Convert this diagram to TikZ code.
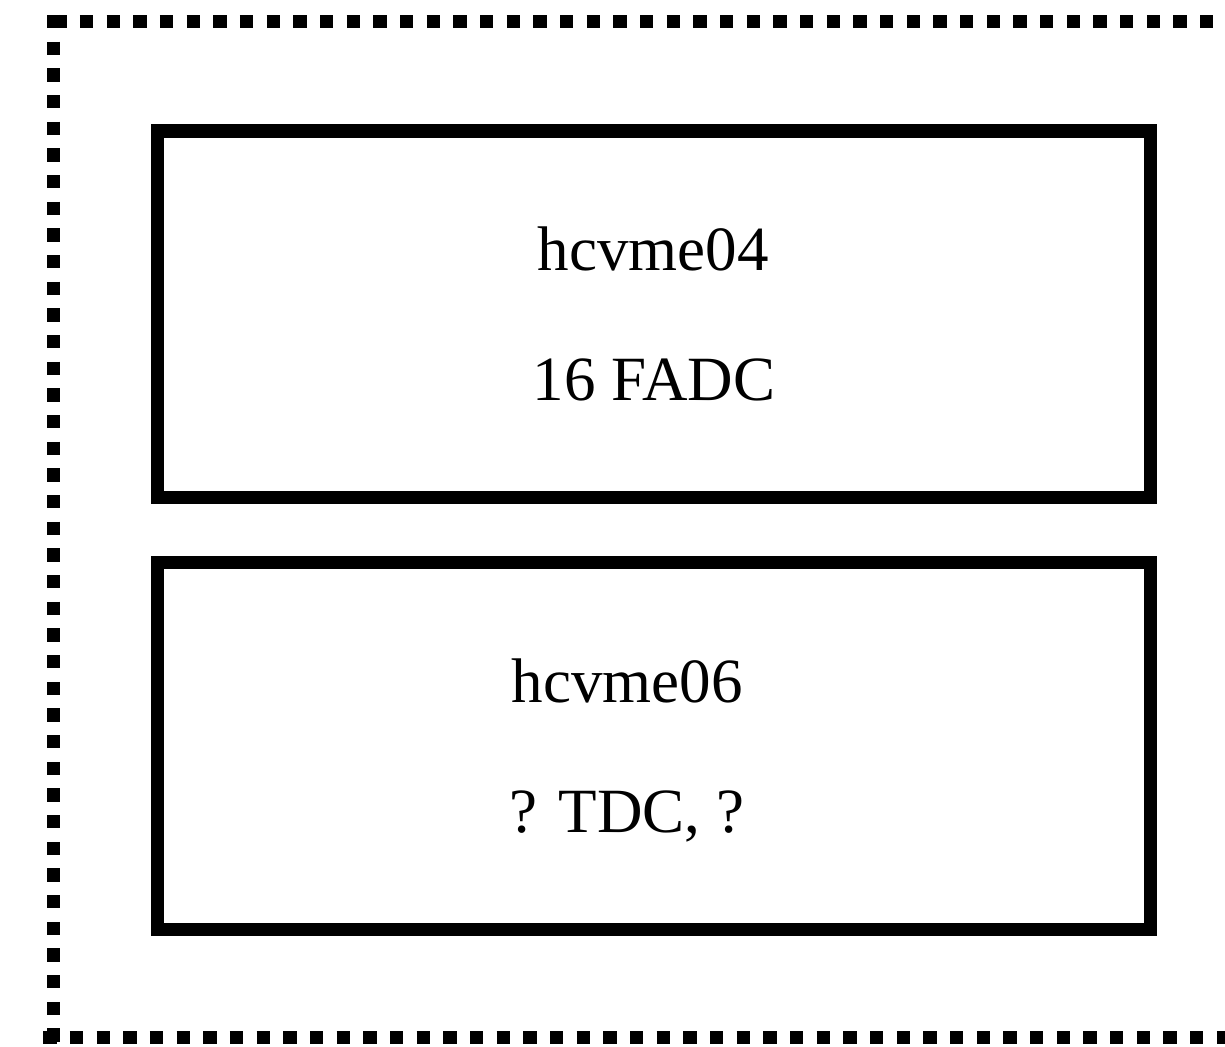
\documentclass[tikz,border=0pt]{standalone}
\usepackage{fontspec}
\setmainfont{Liberation Serif}
\begin{document}
\begin{tikzpicture}[x=1pt,y=-1pt,
  frameline/.style={line width=13.3pt,dash pattern=on 13.33pt off 13.34pt},
  hostbox/.style={draw,line width=13pt,minimum width=992.5pt,inner sep=0pt},
  lbl/.style={inner sep=0pt,anchor=base,font=\fontsize{63}{63}\selectfont}]
\useasboundingbox (0,0) rectangle (1225,1046);
% dotted outer frame (right side runs off the picture)
\draw[frameline] (53.3,21.7) -- (1260,21.7);
\draw[frameline] (53.6,15) -- (53.6,1044);
\draw[frameline] (43.3,1037.8) -- (1260,1037.8);
% hosts
\node[hostbox,minimum height=366pt] (h04) at (653.75,314) {};
\node[hostbox,minimum height=366.5pt] (h06) at (653.75,745.75) {};
\node[lbl] (h04name) at (653,270) {hcvme04};
\node[lbl] (h04adc) at (654,400) {16 FADC};
\node[lbl] (h06name) at (627,702) {hcvme06};
\node[lbl] (h06tdc) at (627,832) {? TDC, ?};
\end{tikzpicture}
\end{document}
